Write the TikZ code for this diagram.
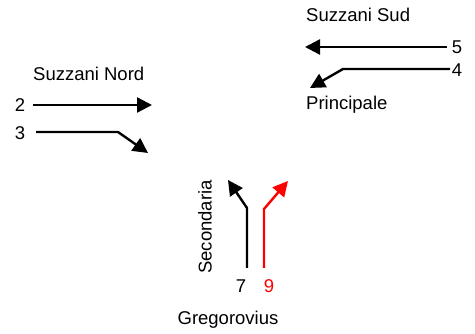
\documentclass[tikz,border=0pt]{standalone}
\usepackage{fontspec}
\setmainfont{Liberation Sans}
\usetikzlibrary{arrows.meta}
\begin{document}
\begin{tikzpicture}[x=1pt,y=-1pt,
  lane/.style={line width=2.4pt,-{Triangle[length=15pt,width=15pt]}},
  lbl/.style={inner sep=0pt,font=\fontsize{18.5}{20}\selectfont}]
\useasboundingbox (0,0) rectangle (475,334);
% Suzzani Nord
\node[lbl,anchor=base west] (nord) at (33,81) {Suzzani Nord};
\node[lbl] (n2) at (20,105) {2};
\node[lbl] (n3) at (20,133) {3};
\coordinate (a2s) at (33,105);
\coordinate (a2e) at (152,105);
\coordinate (a3s) at (36,132);
\coordinate (a3k) at (118,132);
\coordinate (a3e) at (148,153);
\draw[lane] (a2s) -- (a2e);
\draw[lane] (a3s) -- (a3k) -- (a3e);
% Suzzani Sud
\node[lbl,anchor=base west] (sud) at (306,22) {Suzzani Sud};
\node[lbl] (n5) at (457,47) {5};
\node[lbl] (n4) at (457,70) {4};
\node[lbl,anchor=base west] (princ) at (306,110) {Principale};
\coordinate (a5s) at (447,47);
\coordinate (a5e) at (305,47);
\coordinate (a4s) at (450,69);
\coordinate (a4k) at (343,69);
\coordinate (a4e) at (310,88);
\draw[lane] (a5s) -- (a5e);
\draw[lane] (a4s) -- (a4k) -- (a4e);
% Gregorovius
\node[lbl,rotate=90] (sec) at (205,227) {Secondaria};
\node[lbl,anchor=base] (n7) at (241,293) {7};
\node[lbl,anchor=base,text=red] (n9) at (269,293) {9};
\node[lbl,anchor=base] (greg) at (228,325) {Gregorovius};
\coordinate (a7s) at (247,268);
\coordinate (a7k) at (247,208);
\coordinate (a7e) at (228,180);
\coordinate (a9s) at (264,268);
\coordinate (a9k) at (264,209);
\coordinate (a9e) at (288,181);
\draw[lane] (a7s) -- (a7k) -- (a7e);
\draw[lane,red] (a9s) -- (a9k) -- (a9e);
\end{tikzpicture}
\end{document}
